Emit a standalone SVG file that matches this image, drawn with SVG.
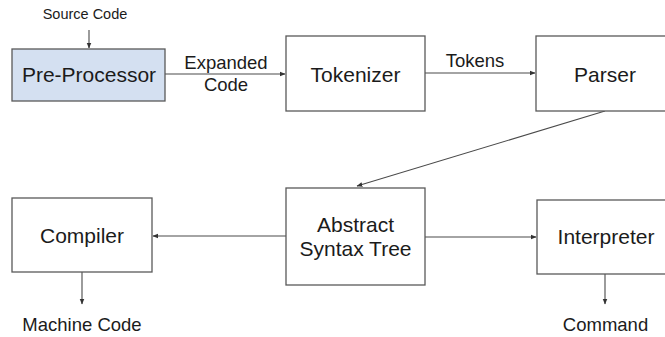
<svg xmlns="http://www.w3.org/2000/svg" width="665" height="337" viewBox="0 0 665 337">
  <style>
    .box { fill: #ffffff; stroke: #595959; stroke-width: 1.3; }
    .box.pre { fill: #d4e0f1; }
    .label { font-family: "Liberation Sans", Arial, sans-serif; fill: #1b1b1b; text-anchor: middle; }
    .big { font-size: 21px; }
    .mid { font-size: 18.5px; }
    .small { font-size: 14.5px; }
    .edge { stroke: #4a4a4a; stroke-width: 1.1; fill: none; marker-end: url(#head); }
  </style>
  <defs>
    <marker id="head" viewBox="0 0 10 10" refX="9" refY="5" markerWidth="6" markerHeight="6" markerUnits="userSpaceOnUse" orient="auto">
      <path d="M0,1 L10,5 L0,9 Z" fill="#333333"/>
    </marker>
  </defs>

  <rect width="665" height="337" fill="#ffffff"/>

  <g id="connectors">
    <line class="edge" x1="89" y1="30" x2="89" y2="48"/>
    <line class="edge" x1="165" y1="74" x2="285" y2="74"/>
    <line class="edge" x1="425" y1="73" x2="535" y2="73"/>
    <line class="edge" x1="605" y1="111" x2="357" y2="186"/>
    <line class="edge" x1="286" y1="236" x2="153" y2="236"/>
    <line class="edge" x1="425" y1="237" x2="536" y2="237"/>
    <line class="edge" x1="82" y1="272" x2="82" y2="304"/>
    <line class="edge" x1="605" y1="274" x2="605" y2="304"/>
    <text class="label mid" x="226" y="69">Expanded</text>
    <text class="label mid" x="226" y="91">Code</text>
    <text class="label mid" x="475" y="67">Tokens</text>
  </g>

  <g id="source-code">
    <text class="label small" x="85" y="19">Source Code</text>
  </g>

  <g id="pre-processor">
    <rect class="box pre" x="12" y="49" width="153" height="52"/>
    <text class="label big" x="89" y="82">Pre-Processor</text>
  </g>

  <g id="tokenizer">
    <rect class="box" x="286" y="36" width="139" height="75"/>
    <text class="label big" x="355.5" y="82">Tokenizer</text>
  </g>

  <g id="parser">
    <rect class="box" x="536" y="36" width="139" height="75"/>
    <text class="label big" x="605" y="82">Parser</text>
  </g>

  <g id="abstract-syntax-tree">
    <rect class="box" x="286" y="188" width="139" height="97"/>
    <text class="label big" x="355.5" y="232">Abstract</text>
    <text class="label big" x="355.5" y="256">Syntax Tree</text>
  </g>

  <g id="compiler">
    <rect class="box" x="12" y="198" width="140" height="74"/>
    <text class="label big" x="82" y="243">Compiler</text>
  </g>

  <g id="interpreter">
    <rect class="box" x="537" y="200" width="139" height="74"/>
    <text class="label big" x="606" y="244">Interpreter</text>
  </g>

  <g id="machine-code">
    <text class="label mid" x="82" y="331">Machine Code</text>
  </g>

  <g id="command">
    <text class="label mid" x="605.5" y="331">Command</text>
  </g>
</svg>
